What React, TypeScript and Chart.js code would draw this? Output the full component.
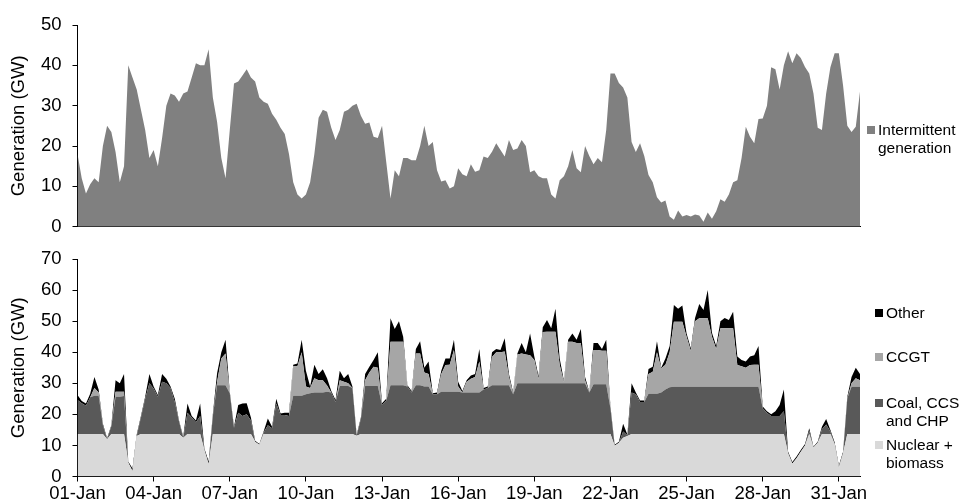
import React, { useEffect, useRef } from "react";
import { Chart, registerables } from "chart.js";

Chart.register(...registerables);

// time step of the series (hours since 01-Jan 00:00)
const STEP_HOURS = 4;
const TICK_HOURS = [0, 72, 144, 216, 288, 360, 432, 504, 576, 648, 720];
const DATE_LABELS = ["01-Jan", "04-Jan", "07-Jan", "10-Jan", "13-Jan", "16-Jan", "19-Jan", "22-Jan", "25-Jan", "28-Jan", "31-Jan"];

// Top panel: intermittent generation (GW), 6 values per day
const intermittent = [
  18, 12, 8.2, 10.5, 12, 11,
  20, 25, 23.5, 18.5, 11, 15,
  40, 37, 34, 29, 24, 17,
  19, 15, 22, 30, 33, 32.5,
  31, 33, 33.5, 37, 40.5, 40,
  40, 44, 32, 26, 17, 12,
  24, 35.5, 36, 37.5, 39, 37,
  36, 32, 31, 30.5, 28, 26.5,
  24.5, 23, 18, 11, 8, 7,
  8, 11, 18, 27, 29, 28.5,
  24.5, 21.5, 24, 28.5, 29, 30,
  30.5, 27.5, 25.5, 25.8, 22.3, 22,
  25, 16, 7, 14, 12.5, 17,
  17, 16.5, 16.5, 20, 25, 20,
  21, 14, 11.2, 11.5, 9.5, 10,
  14.5, 13, 12.5, 15.5, 13.6, 14,
  17.4, 17, 18.6, 20.7, 19, 17.4,
  21.5, 19, 19.4, 21.5, 20, 13.5,
  14, 12.5, 12, 12, 8, 7,
  11.5, 12.5, 15, 19, 14.5, 13.5,
  20, 17.5, 15.5, 17, 16, 24,
  38, 38, 35.6, 34.5, 32, 21,
  18.5, 20.7, 17.5, 12.8, 11, 7.3,
  6, 6.5, 2.5, 1.7, 4, 2.5,
  2.9, 2.5, 3, 2.8, 1.2, 3.5,
  2, 3.8, 6.8, 6.2, 8, 11,
  11.5, 17, 24.8, 22.3, 20.7, 26.7,
  26.8, 30, 39.5, 39, 34, 40,
  43.5, 40.5, 43, 41.8, 39.6, 38,
  33, 24.5, 24, 33, 39.5, 43,
  43, 35, 25, 23.5, 24.8, 33.5,
];

// Bottom panel (GW), 6 values per day
const nuclearBiomass = [
  13.7, 13.7, 13.7, 13.7, 13.7, 13.7,
  13.7, 12, 13.7, 13.7, 13.7, 13.7,
  4.5, 1.8, 13, 13.7, 13.7, 13.7,
  13.7, 13.7, 13.7, 13.7, 13.7, 13.7,
  13.7, 12.5, 13.7, 13.7, 13.7, 13.7,
  8.5, 4, 13.7, 13.7, 13.7, 13.7,
  13.7, 13.7, 13.7, 13.7, 13.7, 13.7,
  11.2, 10.2, 13.7, 13.7, 13.7, 13.7,
  13.7, 13.7, 13.7, 13.7, 13.7, 13.7,
  13.7, 13.7, 13.7, 13.7, 13.7, 13.7,
  13.7, 13.7, 13.7, 13.7, 13.7, 13.7,
  13.1, 13.7, 13.7, 13.7, 13.7, 13.7,
  13.7, 13.7, 13.7, 13.7, 13.7, 13.7,
  13.7, 13.7, 13.7, 13.7, 13.7, 13.7,
  13.7, 13.7, 13.7, 13.7, 13.7, 13.7,
  13.7, 13.7, 13.7, 13.7, 13.7, 13.7,
  13.7, 13.7, 13.7, 13.7, 13.7, 13.7,
  13.7, 13.7, 13.7, 13.7, 13.7, 13.7,
  13.7, 13.7, 13.7, 13.7, 13.7, 13.7,
  13.7, 13.7, 13.7, 13.7, 13.7, 13.7,
  13.7, 13.7, 13.7, 13.7, 13.7, 13.7,
  13.7, 9.9, 10.9, 12.5, 13, 13.7,
  13.7, 13.7, 13.7, 13.7, 13.7, 13.7,
  13.7, 13.7, 13.7, 13.7, 13.7, 13.7,
  13.7, 13.7, 13.7, 13.7, 13.7, 13.7,
  13.7, 13.7, 13.7, 13.7, 13.7, 13.7,
  13.7, 13.7, 13.7, 13.7, 13.7, 13.7,
  13.7, 13.7, 13.7, 13.7, 13.7, 13.7,
  7.5, 4.2, 5.9, 8, 10, 13.7,
  9.3, 10.9, 13.7, 13.7, 13.7, 10.5,
  3, 7.5, 13.7, 13.7, 13.7, 13.7,
];

const coalCcsChp = [
  10.9, 9.9, 9.1, 11.8, 12.3, 12.3,
  2.8, 0, 2.5, 12, 12, 12.2,
  0, 0, 0, 5.3, 11.3, 16.3,
  14.6, 12, 16.8, 16.3, 14.8, 10.3,
  4, 0, 6.8, 5.3, 3.8, 5.8,
  0, 0, 5.8, 15.7, 15.7, 15.7,
  13.1, 2, 6.8, 5.8, 6.3, 4.3,
  0, 0, 0.5, 2.8, 1.8, 9.8,
  6.1, 6.1, 5.8, 12.3, 12.3, 12.3,
  12.8, 13.1, 13.3, 13.3, 13.3, 13.6,
  13.3, 10.3, 15.4, 15.4, 15.4, 14.8,
  0, 4.8, 15.4, 15.4, 15.4, 15.4,
  9.3, 10.8, 15.7, 15.7, 15.7, 15.7,
  15.3, 13.3, 15.7, 15.7, 15.3, 15.3,
  12.8, 12.8, 13.6, 13.6, 13.6, 13.6,
  13.6, 13.3, 13.3, 13.3, 13.3, 13.3,
  14.3, 14.8, 15.7, 15.7, 15.7, 15.7,
  15.7, 12.8, 16.3, 16.3, 16.3, 16.3,
  16.3, 16.3, 16.3, 16.3, 16.3, 16.3,
  16.3, 16.3, 16.3, 16.3, 16.3, 16.3,
  16.3, 13.3, 16, 16, 16, 16,
  8.3, 0, 0, 2, 0.3, 13.3,
  12.8, 10.3, 10.3, 12.9, 12.9, 12.9,
  13.3, 14.3, 15, 15.2, 15.2, 15.2,
  15.2, 15.2, 15.2, 15.2, 15.2, 15.2,
  15.2, 15.2, 15.2, 15.2, 15.2, 15.2,
  15.2, 15.2, 15.2, 15.2, 15.2, 15.2,
  8.3, 6.8, 5.8, 5.8, 5.8, 7.3,
  0, 0, 0, 0, 0, 1,
  0, 0, 1.5, 3, 0.8, 0,
  0, 0, 11.5, 15.2, 15.2, 15.2,
];

const ccgt = [
  0, 0, 0, 0, 2.5, 1,
  0, 0, 0, 1.6, 1.6, 1.4,
  0, 0, 0, 0, 0, 0,
  0, 0, 0, 0, 0, 0,
  0, 0, 0, 0, 0, 0,
  0, 0, 0, 1, 8.6, 10.2,
  0, 0, 0, 0, 0, 0,
  0, 0, 0, 0, 0, 0,
  0, 0, 0, 9.5, 9.5, 14,
  2.5, 1.7, 4.6, 4, 4, 2,
  0, 0, 1.9, 1.4, 0.9, 0,
  0, 0, 1.9, 4.4, 6.2, 5.9,
  0, 0, 14, 14, 14, 14,
  0, 0, 10.2, 10.2, 4.5, 4,
  0, 0, 5.7, 8.6, 8.7, 13.4,
  1.7, 0, 3.5, 4.5, 5, 10,
  0, 0, 9.1, 10.6, 10.6, 10.8,
  2.6, 0, 9.3, 9.6, 9.3, 9,
  7.5, 1.5, 16.5, 16.6, 16.6, 16.6,
  6, 0.3, 13.4, 13.4, 13, 13,
  1, 0, 11, 11, 10.8, 10.8,
  0, 0, 0, 0, 0, 0,
  0, 0, 0, 6.4, 7.1, 13.4,
  7.8, 8, 11.3, 20.9, 20.9, 20.9,
  16.1, 11.6, 21.1, 22, 22, 22,
  16.1, 12.1, 18.8, 18.8, 18.8, 18.8,
  7, 6.6, 6.1, 7, 7.1, 7.1,
  0, 0, 0, 0, 0, 0,
  0, 0, 0, 0, 0, 0,
  0, 0, 0, 0, 0, 0,
  0, 0, 0, 1.1, 2.7, 2.1,
];

const other = [
  1.6, 0.7, 0.7, 1.1, 3.5, 1,
  0.5, 0.3, 0.3, 3.7, 2.7, 5.7,
  0.3, 0.8, 0.5, 0.5, 0.7, 3,
  0.7, 0.5, 2.5, 1.5, 0.5, 1,
  0.3, 0.3, 3, 0.5, 0.5, 4,
  0.5, 0.8, 0.5, 2.8, 2, 4.4,
  0.5, 0.3, 2.5, 4, 3.6, 1,
  0.3, 0.3, 0.3, 2.2, 0.5, 1.5,
  0.5, 0.7, 1, 0.5, 0.9, 4,
  5, 0.5, 4.4, 2, 3.5, 2.3,
  0.5, 0.6, 3, 1.1, 3, 0.5,
  0.3, 0.5, 2, 1.8, 2.2, 5,
  0.6, 0.5, 7.5, 4.1, 6.6, 1.6,
  0.4, 0.5, 1.4, 3.9, 1.5, 4,
  0.3, 0.5, 1, 2.1, 2, 3.3,
  1.5, 0.5, 0.5, 1, 1, 4,
  0.5, 0.5, 1.5, 1, 0.7, 4.3,
  1, 0.5, 0.3, 3.4, 0.7, 7,
  1.1, 0.8, 1.5, 3.8, 1.1, 7.4,
  2, 0.5, 0.6, 2.6, 1, 4.5,
  1, 0.3, 2.3, 2.3, 0.5, 3.5,
  0.5, 0.3, 0.3, 2.5, 0.2, 3,
  0.5, 0.5, 0.5, 1.6, 1.6, 3.5,
  0.2, 2, 2, 5.4, 4.2, 5.2,
  1, 0.8, 1, 4.6, 2.7, 9.1,
  1.3, 1, 2.3, 3.3, 2.7, 5.3,
  2.7, 2, 2, 2.7, 3, 6,
  0.5, 0.5, 0.5, 1.5, 3.5, 7,
  0.5, 0.5, 0.5, 0.5, 0.5, 0.8,
  0.3, 0.3, 0.8, 1.8, 0.5, 0.5,
  0.5, 0.5, 0.5, 2, 3.4, 2,
];

const FONT_FAMILY = "'Liberation Sans', Arial, Helvetica, sans-serif";
const AXIS_FONT = { family: FONT_FAMILY, size: 18.5 };
const X_MAX = (intermittent.length - 1) * STEP_HOURS;

const toPoints = (arr: number[]) => arr.map((v, i) => ({ x: i * STEP_HOURS, y: v }));

const dateTick = (value: number | string) => {
  const i = TICK_HOURS.indexOf(Number(value));
  return i >= 0 ? DATE_LABELS[i] : "";
};

function yAxis(max: number) {
  return {
    min: 0,
    max,
    ticks: { stepSize: 10, color: "#000", font: AXIS_FONT, padding: 11 },
    grid: { display: true, drawOnChartArea: false, drawTicks: true, tickLength: 5, color: "#000" },
    border: { display: true, color: "#000", width: 1 },
    title: {
      display: true,
      text: "Generation (GW)",
      color: "#000",
      font: AXIS_FONT,
      padding: { top: 7.5, bottom: 0 },
    },
    afterFit: (s: any) => {
      s.width = 77.5;
    },
  };
}

function xAxis(showLabels: boolean, height: number) {
  return {
    type: "linear" as const,
    min: 0,
    max: X_MAX,
    afterBuildTicks: (s: any) => {
      s.ticks = TICK_HOURS.map((v) => ({ value: v }));
    },
    ticks: {
      display: showLabels,
      autoSkip: false,
      maxRotation: 0,
      color: "#000",
      font: AXIS_FONT,
      padding: 1,
      callback: dateTick,
    },
    grid: { display: showLabels, drawOnChartArea: false, drawTicks: showLabels, tickLength: 5, color: "#000" },
    border: { display: true, color: "#000", width: 1 },
    afterFit: (s: any) => {
      s.height = height;
    },
  };
}

const areaStyle = (color: string, fill: string) => ({
  backgroundColor: color,
  borderColor: "rgba(0,0,0,0)",
  borderWidth: 0,
  pointRadius: 0,
  pointHoverRadius: 0,
  tension: 0,
  fill,
});

export default function App() {
  const topRef = useRef<HTMLCanvasElement>(null);
  const bottomRef = useRef<HTMLCanvasElement>(null);

  useEffect(() => {
    const top = new Chart(topRef.current!, {
      type: "line",
      data: {
        datasets: [
          { label: "Intermittent generation", data: toPoints(intermittent), ...areaStyle("#808080", "origin") } as any,
        ],
      },
      options: {
        animation: false,
        responsive: false,
        maintainAspectRatio: false,
        events: [],
        layout: { padding: { left: 0, right: 102, top: 25, bottom: 23.3 } },
        plugins: { legend: { display: false }, tooltip: { enabled: false } },
        scales: { x: xAxis(false, 0) as any, y: yAxis(50) as any },
      },
    });

    const bottom = new Chart(bottomRef.current!, {
      type: "line",
      data: {
        datasets: [
          { label: "Nuclear + biomass", data: toPoints(nuclearBiomass), ...areaStyle("#D9D9D9", "origin") } as any,
          { label: "Coal, CCS and CHP", data: toPoints(coalCcsChp), ...areaStyle("#595959", "-1") } as any,
          { label: "CCGT", data: toPoints(ccgt), ...areaStyle("#A6A6A6", "-1") } as any,
          { label: "Other", data: toPoints(other), ...areaStyle("#000000", "-1") } as any,
        ],
      },
      options: {
        animation: false,
        responsive: false,
        maintainAspectRatio: false,
        events: [],
        layout: { padding: { left: 0, right: 102, top: 29, bottom: 0 } },
        plugins: { legend: { display: false }, tooltip: { enabled: false } },
        scales: {
          x: xAxis(true, 25.5) as any,
          y: { ...(yAxis(70) as any), stacked: true },
        },
      },
    });

    return () => {
      top.destroy();
      bottom.destroy();
    };
  }, []);

  const legendText: React.CSSProperties = {
    position: "absolute",
    fontFamily: FONT_FAMILY,
    fontSize: "15.5px",
    lineHeight: "18.5px",
    color: "#000",
    whiteSpace: "nowrap",
  };
  const box = (left: number, top: number, color: string): React.CSSProperties => ({
    position: "absolute",
    left,
    top,
    width: 8,
    height: 8,
    background: color,
  });

  return (
    <div style={{ position: "absolute", left: 0, top: 0, width: 962, height: 502, background: "#fff", overflow: "hidden" }}>
      <canvas ref={topRef} width={962} height={250} style={{ position: "absolute", left: 0, top: 0 }} />
      <canvas ref={bottomRef} width={962} height={272} style={{ position: "absolute", left: 0, top: 230 }} />

      <div style={box(867, 126, "#808080")} />
      <div style={{ ...legendText, left: 878, top: 120.5 }}>
        Intermittent
        <br />
        generation
      </div>

      <div style={box(875, 309, "#000000")} />
      <div style={{ ...legendText, left: 886, top: 303.5 }}>Other</div>

      <div style={box(875, 353, "#A6A6A6")} />
      <div style={{ ...legendText, left: 886, top: 347.5 }}>CCGT</div>

      <div style={box(875, 399, "#595959")} />
      <div style={{ ...legendText, left: 886, top: 393.5 }}>
        Coal, CCS
        <br />
        and CHP
      </div>

      <div style={box(875, 441, "#D9D9D9")} />
      <div style={{ ...legendText, left: 886, top: 435.5 }}>
        Nuclear +
        <br />
        biomass
      </div>
    </div>
  );
}
